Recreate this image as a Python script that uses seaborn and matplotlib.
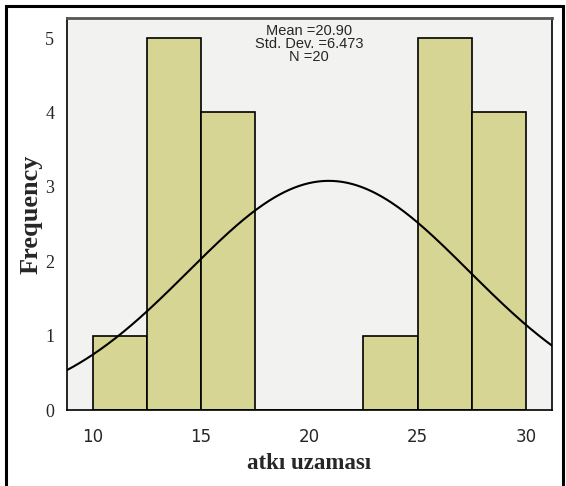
import numpy as np
import pandas as pd
import matplotlib
matplotlib.use("Agg")
import matplotlib.pyplot as plt
import seaborn as sns
from matplotlib.patches import Rectangle

# ---------------------------------------------------------------------------
# Data
# ---------------------------------------------------------------------------
bin_edges = [10, 12.5, 15, 17.5, 20, 22.5, 25, 27.5, 30]
bin_counts = [1, 5, 4, 0, 0, 1, 5, 4]
mean_val = 20.90
std_val = 6.473
n_val = 20
x_ticks = [10, 15, 20, 25, 30]
y_ticks = [0, 1, 2, 3, 4, 5]

centers = [(a + b) / 2 for a, b in zip(bin_edges[:-1], bin_edges[1:])]
df = pd.DataFrame({"value": centers, "count": bin_counts})

sns.set_style("white")

fig = plt.figure(figsize=(5.66, 4.86), dpi=100)
ax = fig.add_axes([0.118, 0.156, 0.857, 0.807])
ax.set_facecolor("#f2f2f0")

sns.histplot(data=df, x="value", weights="count", bins=bin_edges,
             color="#d6d594", alpha=1, edgecolor="black", linewidth=1.2, ax=ax)

# fitted normal curve scaled to frequency
xs = np.linspace(8.8, 31.2, 300)
binw = bin_edges[1] - bin_edges[0]
ys = n_val * binw / (std_val * np.sqrt(2 * np.pi)) * np.exp(-0.5 * ((xs - mean_val) / std_val) ** 2)
sns.lineplot(x=xs, y=ys, color="black", linewidth=1.5, ax=ax)

ax.set_xlim(8.8, 31.2)
ax.set_ylim(0, 5.27)
ax.set_xticks(x_ticks)
ax.set_yticks(y_ticks)
ax.tick_params(axis="x", direction="out", length=9, width=1.2, labelsize=12, pad=4)
ax.tick_params(axis="y", direction="out", length=7, width=1.2, labelsize=12, pad=2)
for lab in ax.get_xticklabels():
    lab.set_fontfamily("DejaVu Sans")
for lab in ax.get_yticklabels():
    lab.set_fontfamily("Liberation Serif")
    lab.set_fontsize(13)
for s in ax.spines.values():
    s.set_color("black")
    s.set_linewidth(1.2)
ax.spines["top"].set_color("#555555")
ax.spines["top"].set_linewidth(2)

ax.set_xlabel("atkı uzaması", fontfamily="Liberation Serif", fontweight="bold",
              fontsize=16.5, labelpad=5)
ax.set_ylabel("Frequency", fontfamily="Liberation Serif", fontweight="bold",
              fontsize=19, labelpad=2)

ax.text(0.5, 0.985, f"Mean ={mean_val:.2f}\nStd. Dev. ={std_val:.3f}\nN ={n_val}",
        transform=ax.transAxes, ha="center", va="top", fontsize=10.5,
        fontfamily="Liberation Sans", linespacing=0.9)

# outer frame
fig.patches.append(Rectangle((0.011, -0.01), 0.983, 0.998, transform=fig.transFigure,
                             fill=False, edgecolor="black", linewidth=2.2))

fig.savefig("out.png", dpi=100)
